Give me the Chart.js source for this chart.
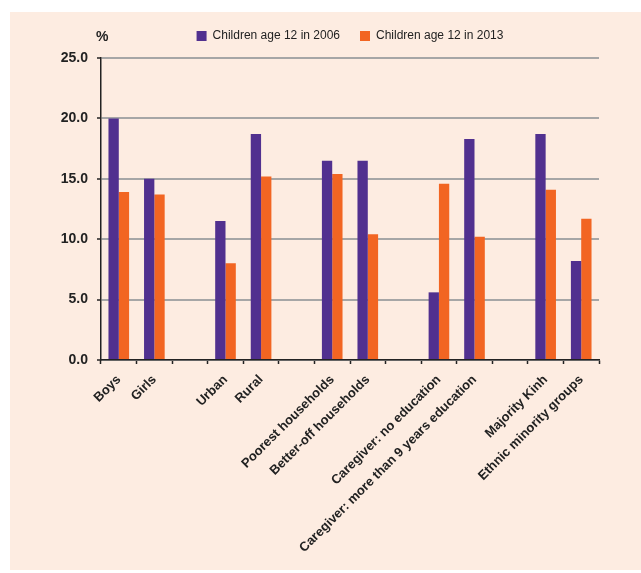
<!DOCTYPE html>
<html>
<head>
<meta charset="utf-8">
<script src="https://cdn.jsdelivr.net/npm/chart.js@4"></script>
<style>
  html, body { margin: 0; padding: 0; background: #ffffff; }
  #panel { position: absolute; left: 10px; top: 12px; width: 631px; height: 558px; background: #fdece1; }
  #wrap { position: absolute; left: 0; top: 0; width: 641px; height: 573px; }
</style>
</head>
<body>
<div id="panel"></div>
<div id="wrap"><canvas id="chart" width="641" height="573"></canvas></div>
<script>
// categories (empty strings are the gaps between groups)
const categories = ["Boys", "Girls", "", "Urban", "Rural", "", "Poorest households", "Better-off households", "",
    "Caregiver: no education", "Caregiver: more than 9 years education", "", "Majority Kinh", "Ethnic minority groups"];
const seriesNames = ["Children age 12 in 2006", "Children age 12 in 2013"];
const values2006 = [20.0, 15.0, null, 11.5, 18.7, null, 16.5, 16.5, null, 5.6, 18.3, null, 18.7, 8.2];
const values2013 = [13.9, 13.7, null, 8.0, 15.2, null, 15.4, 10.4, null, 14.6, 10.2, null, 14.1, 11.7];
const yTicks = [0, 5, 10, 15, 20, 25];

const FONT = "'Liberation Sans Narrow', 'Arial Narrow', 'Liberation Sans', Arial, sans-serif";

// fixes the legend height so the plot top lands where it should
const legendHeight = {
    id: "legendHeight",
    beforeInit(chart) {
        const legend = chart.legend;
        if (!legend) return;
        const fit = legend.fit;
        legend.fit = function () {
            fit.call(this);
            this.height = 48;
        };
    }
};

// draws the "%" unit label above the y axis
const unitLabel = {
    id: "unitLabel",
    afterDraw(chart) {
        const ctx = chart.ctx;
        const area = chart.chartArea;
        ctx.save();
        ctx.font = "bold 14px " + FONT;
        ctx.fillStyle = "#222222";
        ctx.textAlign = "left";
        ctx.textBaseline = "middle";
        ctx.fillText("%", area.left - 5, area.top - 21);
        ctx.restore();
    }
};

const ctx = document.getElementById("chart").getContext("2d");
const chart = new Chart(ctx, {
    type: "bar",
    data: {
        labels: categories,
        datasets: [{
            label: seriesNames[0],
            data: values2006,
            backgroundColor: "#51308f",
            borderWidth: 0,
        }, {
            label: seriesNames[1],
            data: values2013,
            backgroundColor: "#f26522",
            borderWidth: 0,
        }],
    },
    options: {
        responsive: false,
        animation: false,
        categoryPercentage: 0.58,
        barPercentage: 1.0,
        layout: {
            padding: { top: 10, right: 42, left: 0, bottom: 0 },
        },
        plugins: {
            legend: {
                display: true,
                position: "top",
                fullSize: false,
                labels: {
                    boxWidth: 10,
                    boxHeight: 10,
                    padding: 20,
                    color: "#222222",
                    font: { family: FONT, size: 12 },
                },
            },
            tooltip: { enabled: false },
        },
        scales: {
            x: {
                afterFit(scale) { scale.height = 213; },
                grid: {
                    offset: true,
                    drawOnChartArea: false,
                    drawTicks: true,
                    tickLength: 4,
                    tickColor: "#222222",
                    tickWidth: 1.5,
                },
                border: { color: "#222222", width: 1.5 },
                ticks: {
                    autoSkip: false,
                    maxRotation: 45,
                    minRotation: 45,
                    padding: 8,
                    color: "#222222",
                    font: { family: FONT, size: 13, weight: "bold" },
                },
            },
            y: {
                min: 0,
                max: 25,
                afterFit(scale) { scale.width = 101; },
                afterBuildTicks(scale) { scale.ticks = yTicks.map(v => ({ value: v })); },
                grid: {
                    color: "#a6a6a6",
                    lineWidth: 2,
                    drawTicks: true,
                    tickLength: 4,
                    tickColor: "#222222",
                    tickWidth: 1.5,
                },
                border: { color: "#222222", width: 1.5 },
                ticks: {
                    padding: 9,
                    color: "#222222",
                    font: { family: FONT, size: 14, weight: "bold" },
                    callback: (v) => Number(v).toFixed(1),
                },
            },
        },
    },
    plugins: [legendHeight, unitLabel],
});
</script>
</body>
</html>
